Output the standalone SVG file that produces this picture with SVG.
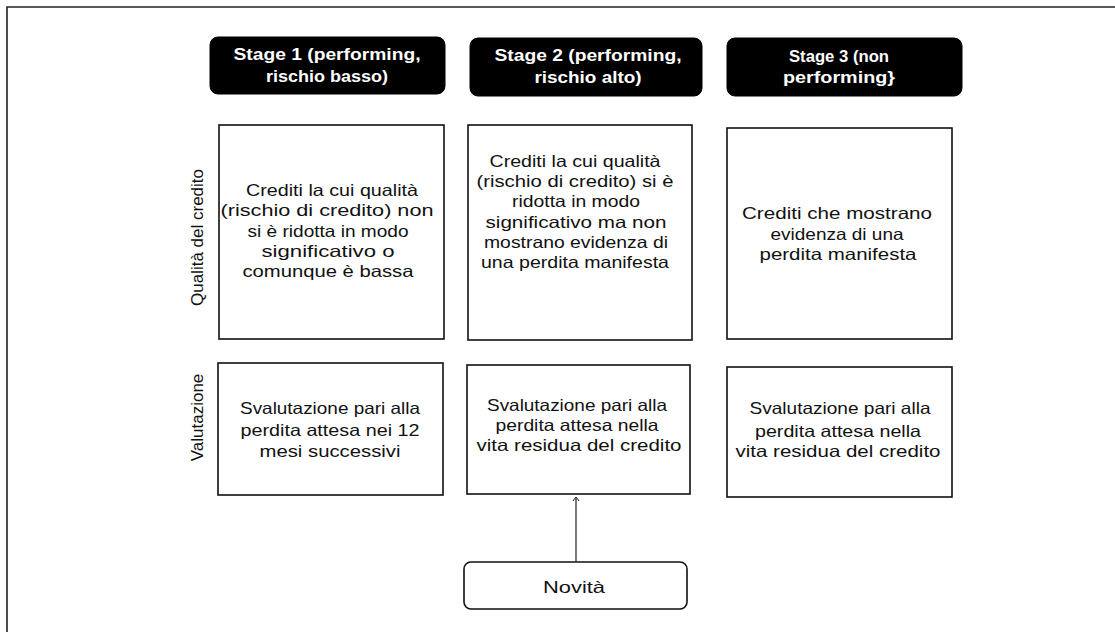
<svg xmlns="http://www.w3.org/2000/svg" width="1115" height="632" viewBox="0 0 1115 632">
<defs>
<style>
.frame{fill:none;stroke:#222;stroke-width:1.6}
.hdr{fill:#000;stroke:#000;stroke-width:1}
.hdrt{font-family:"Liberation Sans",Arial,sans-serif;font-weight:bold;font-size:16px;fill:#fff;text-anchor:middle}
.box{fill:#fff;stroke:#111;stroke-width:1.6}
.t{font-family:"Liberation Sans",Arial,sans-serif;font-size:16.5px;fill:#111;text-anchor:middle}
.side{font-family:"Liberation Sans",Arial,sans-serif;font-size:17px;fill:#111;text-anchor:middle}
.conn{fill:none;stroke:#222;stroke-width:1.2}
</style>
<marker id="arr" markerWidth="10" markerHeight="10" refX="5" refY="1" orient="0" markerUnits="userSpaceOnUse">
<path d="M2,5 L5,1 L8,5" fill="none" stroke="#222" stroke-width="1"/>
</marker>
</defs>
<rect width="1115" height="632" fill="#fff"/>
<path class="frame" d="M7,640 L7,7 L1120,7"/>

<g id="side-qualita"><text class="side" transform="translate(203,237.5) rotate(-90)">Qualità del credito</text></g>
<g id="side-valutazione"><text class="side" transform="translate(203,417.5) rotate(-90)">Valutazione</text></g>

<g id="hdr1"><rect class="hdr" x="210" y="37" width="235" height="57" rx="8"/>
<text class="hdrt" x="327" y="60" textLength="187" lengthAdjust="spacingAndGlyphs">Stage 1 (performing,</text>
<text class="hdrt" x="327" y="82" textLength="122" lengthAdjust="spacingAndGlyphs">rischio basso)</text></g>
<g id="hdr2"><rect class="hdr" x="470" y="38" width="232" height="58" rx="8"/>
<text class="hdrt" x="588" y="61" textLength="187" lengthAdjust="spacingAndGlyphs">Stage 2 (performing,</text>
<text class="hdrt" x="588" y="83" textLength="107" lengthAdjust="spacingAndGlyphs">rischio alto)</text></g>
<g id="hdr3"><rect class="hdr" x="727" y="38" width="235" height="58" rx="8"/>
<text class="hdrt" x="839" y="62" textLength="100" lengthAdjust="spacingAndGlyphs">Stage 3 (non</text>
<text class="hdrt" x="839" y="83" textLength="112" lengthAdjust="spacingAndGlyphs">performing}</text></g>

<g id="q1"><rect class="box" x="219" y="125" width="225" height="214"/>
<text class="t" x="332" y="196" textLength="172" lengthAdjust="spacingAndGlyphs">Crediti la cui qualità</text>
<text class="t" x="327" y="216" textLength="213" lengthAdjust="spacingAndGlyphs">(rischio di credito) non</text>
<text class="t" x="328" y="236.5" textLength="161" lengthAdjust="spacingAndGlyphs">si è ridotta in modo</text>
<text class="t" x="328" y="257" textLength="133" lengthAdjust="spacingAndGlyphs">significativo o</text>
<text class="t" x="328" y="277" textLength="171" lengthAdjust="spacingAndGlyphs">comunque è bassa</text></g>

<g id="q2"><rect class="box" x="468" y="125" width="224" height="215"/>
<text class="t" x="575" y="166.5" textLength="171" lengthAdjust="spacingAndGlyphs">Crediti la cui qualità</text>
<text class="t" x="575" y="187" textLength="197" lengthAdjust="spacingAndGlyphs">(rischio di credito) si è</text>
<text class="t" x="576" y="207" textLength="128" lengthAdjust="spacingAndGlyphs">ridotta in modo</text>
<text class="t" x="576" y="227.5" textLength="181" lengthAdjust="spacingAndGlyphs">significativo ma non</text>
<text class="t" x="576" y="248" textLength="184" lengthAdjust="spacingAndGlyphs">mostrano evidenza di</text>
<text class="t" x="575" y="268" textLength="188" lengthAdjust="spacingAndGlyphs">una perdita manifesta</text></g>

<g id="q3"><rect class="box" x="727" y="128" width="225" height="211"/>
<text class="t" x="837" y="219" textLength="190" lengthAdjust="spacingAndGlyphs">Crediti che mostrano</text>
<text class="t" x="837" y="240" textLength="133" lengthAdjust="spacingAndGlyphs">evidenza di una</text>
<text class="t" x="838" y="260" textLength="157" lengthAdjust="spacingAndGlyphs">perdita manifesta</text></g>

<g id="v1"><rect class="box" x="218" y="363" width="225" height="132"/>
<text class="t" x="330" y="414" textLength="180" lengthAdjust="spacingAndGlyphs">Svalutazione pari alla</text>
<text class="t" x="330" y="436" textLength="179" lengthAdjust="spacingAndGlyphs">perdita attesa nei 12</text>
<text class="t" x="330" y="457" textLength="141" lengthAdjust="spacingAndGlyphs">mesi successivi</text></g>

<g id="v2"><rect class="box" x="467" y="365" width="223" height="129"/>
<text class="t" x="577" y="411" textLength="180" lengthAdjust="spacingAndGlyphs">Svalutazione pari alla</text>
<text class="t" x="577" y="431" textLength="163" lengthAdjust="spacingAndGlyphs">perdita attesa nella</text>
<text class="t" x="579" y="451" textLength="205" lengthAdjust="spacingAndGlyphs">vita residua del credito</text></g>

<g id="v3"><rect class="box" x="727" y="367" width="225" height="130"/>
<text class="t" x="840" y="414" textLength="181" lengthAdjust="spacingAndGlyphs">Svalutazione pari alla</text>
<text class="t" x="838" y="437" textLength="166" lengthAdjust="spacingAndGlyphs">perdita attesa nella</text>
<text class="t" x="838" y="457" textLength="205" lengthAdjust="spacingAndGlyphs">vita residua del credito</text></g>

<g id="novita"><rect class="box" x="464" y="562" width="223" height="47" rx="7"/>
<text class="t" x="574" y="593" textLength="62" lengthAdjust="spacingAndGlyphs">Novità</text></g>

<g id="connectors">
<path class="conn" d="M576,562 L576,497" marker-end="url(#arr)"/>
</g>
</svg>
